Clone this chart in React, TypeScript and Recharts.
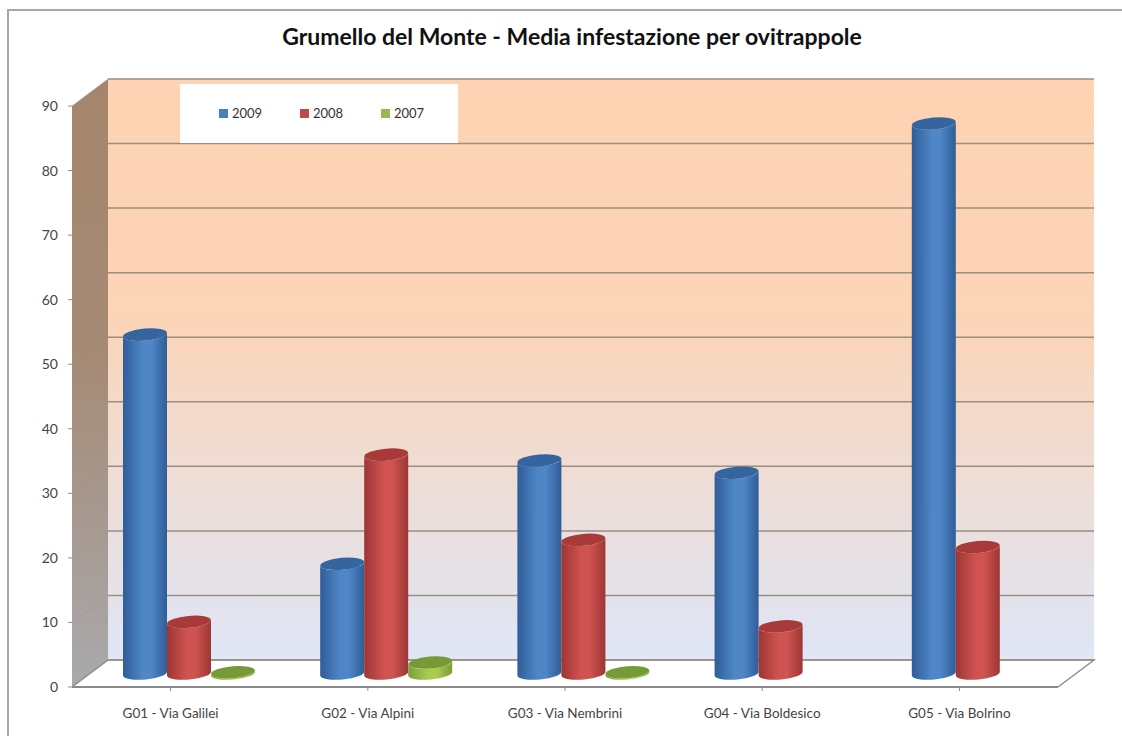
import React from 'react';
import { BarChart, Bar, XAxis, YAxis, CartesianGrid, Legend, usePlotArea } from 'recharts';

const categories = ['G01 - Via Galilei', 'G02 - Via Alpini', 'G03 - Via Nembrini', 'G04 - Via Boldesico', 'G05 - Via Bolrino'];
const values2009 = [52.5, 17, 33, 31.1, 85.2];
const values2008 = [8, 33.9, 20.7, 7.3, 19.6];
const values2007 = [0.2, 1.7, 0.2, 0, 0];
const yTicks = [0, 10, 20, 30, 40, 50, 60, 70, 80, 90];

const chartData = categories.map((name, i) => ({
  name,
  y2009: values2009[i],
  y2008: values2008[i],
  y2007: values2007[i],
}));

const FONT = 'Lato, "Open Sans", sans-serif';
const DEPTH_X = 36;
const DEPTH_Y = 27;

const colors = {
  blue: { legend: '#4a7ebb', edge: '#2f5d98', mid: '#4f86c6', top: '#34659f' },
  red: { legend: '#be4b48', edge: '#9c3634', mid: '#cf5350', top: '#a83a39' },
  green: { legend: '#98b954', edge: '#7d9e38', mid: '#a9cb50', top: '#769a38' },
};

const Gradients = () => (
  <defs>
    {Object.entries(colors).map(([key, c]) => (
      <linearGradient id={`cyl-${key}`} key={key} x1="0" y1="0" x2="1" y2="0">
        <stop offset="0%" stopColor={c.edge} />
        <stop offset="45%" stopColor={c.mid} />
        <stop offset="65%" stopColor={c.mid} />
        <stop offset="100%" stopColor={c.edge} />
      </linearGradient>
    ))}
    <linearGradient id="wall" x1="0" y1="0" x2="0" y2="1">
      <stop offset="0%" stopColor="#fdd3b3" />
      <stop offset="40%" stopColor="#fcd4b6" />
      <stop offset="100%" stopColor="#dfe6f7" />
    </linearGradient>
    <linearGradient id="side" x1="0" y1="0" x2="0" y2="1">
      <stop offset="0%" stopColor="#a5866c" />
      <stop offset="45%" stopColor="#a58a74" />
      <stop offset="100%" stopColor="#a9a9ad" />
    </linearGradient>
  </defs>
);

// back wall, side wall and floor, placed from the plot area
const Walls = () => {
  const plot = usePlotArea();
  if (!plot) return null;
  const left = plot.x;
  const right = plot.x + plot.width;
  const top = plot.y;
  const bottom = plot.y + plot.height;
  return (
    <g>
      <rect x={left + DEPTH_X} y={top - DEPTH_Y} width={plot.width} height={plot.height} fill="url(#wall)" />
      <polygon
        points={`${left},${top} ${left + DEPTH_X},${top - DEPTH_Y} ${left + DEPTH_X},${bottom - DEPTH_Y} ${left},${bottom}`}
        fill="url(#side)"
      />
      <polyline
        points={`${left},${bottom} ${left + DEPTH_X},${bottom - DEPTH_Y} ${right + DEPTH_X},${bottom - DEPTH_Y} ${right},${bottom}`}
        fill="none"
        stroke="#8f8f8f"
        strokeWidth={1.5}
      />
    </g>
  );
};

// horizontal grid line bent along the side wall and the back wall
const WallLine = (props: any) => {
  const { x1, x2, y1 } = props;
  return (
    <g>
      <line x1={x1} y1={y1} x2={x1 + DEPTH_X} y2={y1 - DEPTH_Y} stroke="#9a8c80" strokeWidth={1} strokeOpacity={0.3} />
      <line x1={x1 + DEPTH_X} y1={y1 - DEPTH_Y} x2={x2 + DEPTH_X} y2={y1 - DEPTH_Y} stroke="#9b8e80" strokeWidth={1.5} />
    </g>
  );
};

const Cylinder = (props: any) => {
  const { x, y, width, height, tone } = props;
  if (!height || !width) return null;
  const c = colors[tone as keyof typeof colors];
  const dx = DEPTH_X / 2;
  const dy = DEPTH_Y / 2;
  const rx = width / 2;
  const ry = 6;
  const tilt = 2;
  const left = x + dx;
  const right = x + dx + width;
  const topY = y - dy;
  const baseY = y + height - dy;
  const body = `M${left},${topY + tilt} L${left},${baseY + tilt} A${rx},${ry} -5 0 0 ${right},${baseY - tilt} L${right},${topY - tilt} A${rx},${ry} -5 0 1 ${left},${topY + tilt} Z`;
  return (
    <g>
      <path d={body} fill={`url(#cyl-${tone})`} />
      <ellipse cx={left + rx} cy={topY} rx={rx} ry={ry} fill={c.top} transform={`rotate(-5 ${left + rx} ${topY})`} />
    </g>
  );
};

const LegendBox = (props: any) => {
  const { payload } = props;
  return (
    <div style={{ width: 278, height: 59, background: '#fff', position: 'relative', fontFamily: FONT, fontSize: 13, color: '#333' }}>
      {(payload || []).map((item: any, i: number) => (
        <div key={item.value} style={{ position: 'absolute', left: 39 + i * 81, top: 20, display: 'flex', alignItems: 'center', height: 18 }}>
          <span style={{ width: 9, height: 9, background: item.color, marginRight: 4 }} />
          {item.value}
        </div>
      ))}
    </div>
  );
};

export default function App() {
  return (
    <div style={{ position: 'absolute', left: 0, top: 0, width: 1122, height: 736, overflow: 'hidden', background: '#fff' }}>
      <div style={{ position: 'absolute', left: 7, top: 9, width: 1200, height: 800, border: '2px solid #a6a6a6' }} />
      <div
        style={{
          position: 'absolute',
          left: 0,
          width: 1144,
          top: 22,
          textAlign: 'center',
          fontFamily: FONT,
          fontWeight: 700,
          fontSize: 23,
          color: '#111',
        }}
      >
        Grumello del Monte - Media infestazione per ovitrappole
      </div>
      <div style={{ position: 'absolute', left: 0, top: 0 }}>
        <BarChart
          width={1122}
          height={736}
          data={chartData}
          margin={{ top: 106, right: 64, bottom: 0, left: 0 }}
          barCategoryGap={33}
          barGap={0}
        >
          <Gradients />
          <Walls />
          <CartesianGrid zIndex={100} vertical={false} horizontal={(p: any) => <WallLine key={p.key} {...p} />} />
          <XAxis
            dataKey="name"
            height={49}
            interval={0}
            tickSize={4}
            tickMargin={17}
            tick={{ fill: '#444', fontSize: 13.5, fontFamily: FONT }}
            axisLine={{ stroke: '#8a8a8a', strokeWidth: 2 }}
            tickLine={{ stroke: '#8a8a8a' }}
          />
          <YAxis
            width={72}
            domain={[0, 90]}
            ticks={yTicks}
            interval={0}
            tickSize={4}
            tickMargin={10}
            tick={{ fill: '#444', fontSize: 14, fontFamily: FONT }}
            axisLine={false}
            tickLine={{ stroke: '#8a8a8a' }}
          />
          <Legend
            layout="vertical"
            align="center"
            verticalAlign="middle"
            itemSorter={null}
            wrapperStyle={{ left: 180, top: 84, width: 278, height: 59 }}
            content={<LegendBox />}
          />
          <Bar dataKey="y2009" name="2009" fill={colors.blue.legend} isAnimationActive={false} shape={(p: any) => <Cylinder {...p} tone="blue" />} />
          <Bar dataKey="y2008" name="2008" fill={colors.red.legend} isAnimationActive={false} shape={(p: any) => <Cylinder {...p} tone="red" />} />
          <Bar dataKey="y2007" name="2007" fill={colors.green.legend} isAnimationActive={false} shape={(p: any) => <Cylinder {...p} tone="green" />} />
        </BarChart>
      </div>
    </div>
  );
}
